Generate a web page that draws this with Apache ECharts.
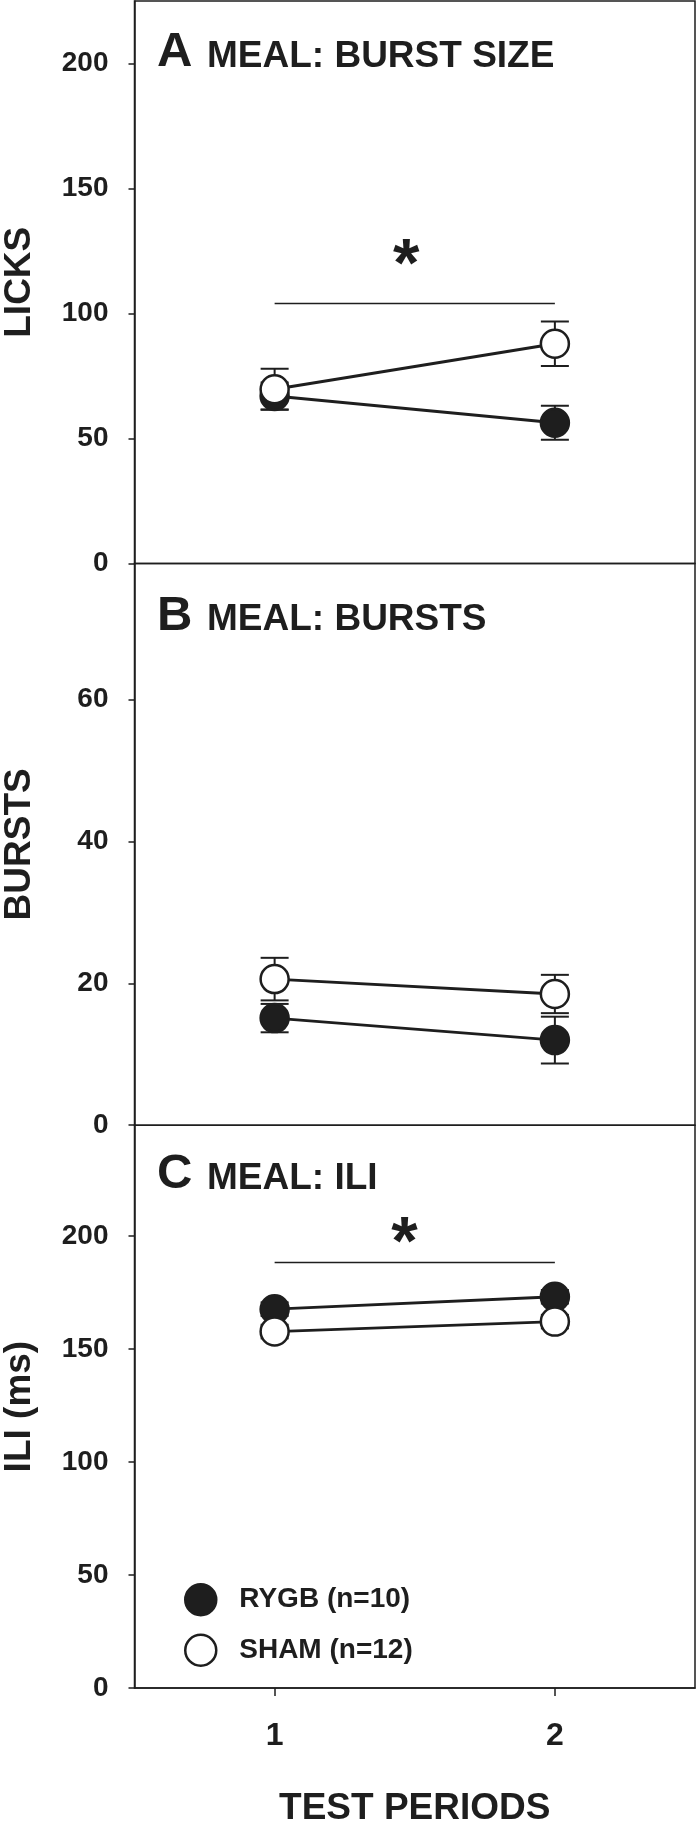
<!DOCTYPE html>
<html>
<head>
<meta charset="utf-8">
<script src="https://cdn.jsdelivr.net/npm/echarts@6/dist/echarts.min.js"></script>
<style>
html,body{margin:0;padding:0;background:#fff;}
#chart{width:697px;height:1823px;}
</style>
</head>
<body>
<div id="chart"></div>
<script>
// ---------- data ----------
const periods = [1, 2];
const groupNames = ['RYGB (n=10)', 'SHAM (n=12)'];

// Panel A: burst size (licks)
const rygbLicks = [67, 56.3];
const rygbLicksSem = [5.4, 6.8];
const shamLicks = [69.7, 87.9];
const shamLicksSem = [8.2, 8.9];

// Panel B: bursts
const rygbBursts = [15.1, 12.0];
const rygbBurstsSem = [2.0, 3.3];
const shamBursts = [20.6, 18.5];
const shamBurstsSem = [3.0, 2.7];

// Panel C: ILI (ms)
const rygbIli = [167.6, 173.1];
const rygbIliSem = [3, 3];
const shamIli = [157.7, 162.1];
const shamIliSem = [3, 3];

// y-axis ticks
const ticksA = [0, 50, 100, 150, 200];
const ticksB = [0, 20, 40, 60];
const ticksC = [0, 50, 100, 150, 200];
const xTicks = [1, 2];

// significance markers: [x1, x2, y] and star [x, y]
const sigLineA = [1, 2, 104];
const starA = [1.47, 123.6];
const sigLineC = [1, 2, 188.2];
const starC = [1.463, 201.8];

// ---------- styling ----------
const INK = '#1e1e1e';
const FONT = '"Liberation Sans", Arial, Helvetica, sans-serif';
const SYM = 28;

const chart = echarts.init(document.getElementById('chart'), null, {renderer: 'canvas'});

const grids = [
  {left: 134.5, right: 2, top: 1, height: 562.5},
  {left: 134.5, right: 2, top: 563.5, height: 561.7},
  {left: 134.5, right: 2, top: 1125.2, height: 562.8}
].map(g => Object.assign(g, {show: true, borderColor: INK, borderWidth: 1.5, backgroundColor: 'transparent',
  containLabel: false, outerBoundsMode: 'none'}));

function yAxis(i, max, interval, ticks, name) {
  return {
    gridIndex: i, type: 'value', min: 0, max: max, interval: interval,
    axisLine: {show: true, lineStyle: {color: INK, width: 1.5}},
    axisTick: {show: true, inside: false, length: 6, lineStyle: {color: INK, width: 1.5}, customValues: ticks},
    axisLabel: {show: true, customValues: ticks, fontSize: 28, fontWeight: 'bold', fontFamily: FONT, color: INK, margin: 26,
      formatter: v => (ticks.indexOf(v) >= 0 ? String(v) : '')},
    splitLine: {show: false},
    name: name, nameLocation: 'middle', nameGap: 96,
    nameTextStyle: {fontSize: 37, fontWeight: 'bold', fontFamily: FONT, color: INK}
  };
}

function xAxis(i, showAll) {
  const ax = {
    gridIndex: i, type: 'value', min: 0.5, max: 2.5, interval: 0.5,
    axisLine: {show: false}, axisTick: {show: false}, axisLabel: {show: false}, splitLine: {show: false}
  };
  if (showAll) {
    ax.axisLine = {show: true, onZero: false, lineStyle: {color: INK, width: 1.5}};
    ax.axisTick = {show: true, inside: false, length: 8, lineStyle: {color: INK, width: 1.5}, customValues: xTicks};
    ax.axisLabel = {show: true, customValues: xTicks, fontSize: 32, fontWeight: 'bold', fontFamily: FONT, color: INK, margin: 32,
      formatter: v => (xTicks.indexOf(v) >= 0 ? String(v) : '')};
    ax.name = 'TEST PERIODS';
    ax.nameLocation = 'middle';
    ax.nameGap = 102;
    ax.nameTextStyle = {fontSize: 37, fontWeight: 'bold', fontFamily: FONT, color: INK};
  }
  return ax;
}

function errSeries(i, vals, sems, z) {
  return {
    type: 'custom', xAxisIndex: i, yAxisIndex: i, z: z, silent: true,
    data: periods.map((x, k) => [x, vals[k] - sems[k], vals[k] + sems[k]]),
    renderItem: function (params, api) {
      const x = api.value(0);
      const lo = api.coord([x, api.value(1)]);
      const hi = api.coord([x, api.value(2)]);
      const hw = 14;
      const st = {stroke: INK, lineWidth: 2};
      return {type: 'group', children: [
        {type: 'line', shape: {x1: lo[0], y1: lo[1], x2: hi[0], y2: hi[1]}, style: st},
        {type: 'line', shape: {x1: lo[0] - hw, y1: lo[1], x2: lo[0] + hw, y2: lo[1]}, style: st},
        {type: 'line', shape: {x1: hi[0] - hw, y1: hi[1], x2: hi[0] + hw, y2: hi[1]}, style: st}
      ]};
    }
  };
}

function lineSeries(i, name, vals, filled, z) {
  return {
    type: 'line', name: name, xAxisIndex: i, yAxisIndex: i, z: z,
    data: periods.map((x, k) => [x, vals[k]]),
    symbol: 'circle', symbolSize: SYM, showSymbol: true,
    itemStyle: {color: filled ? INK : '#ffffff', borderColor: INK, borderWidth: 2.5},
    lineStyle: {color: INK, width: 2.8},
    emphasis: {disabled: true}, silent: true
  };
}

function sigSeries(i, sig) {
  return {
    type: 'line', xAxisIndex: i, yAxisIndex: i, z: 1, silent: true,
    data: [[sig[0], sig[2]], [sig[1], sig[2]]],
    symbol: 'none', lineStyle: {color: INK, width: 1.5}, emphasis: {disabled: true}
  };
}

function starSeries(i, star) {
  return {
    type: 'custom', xAxisIndex: i, yAxisIndex: i, z: 1, silent: true,
    data: [star],
    renderItem: function (params, api) {
      const p = api.coord([api.value(0), api.value(1)]);
      const fs = 68;
      return {type: 'text', x: p[0], y: p[1] + 0.19 * fs,
        style: {text: '*', font: 'bold ' + fs + 'px ' + FONT, fill: INK, align: 'center', verticalAlign: 'middle'}};
    }
  };
}

const series = [
  sigSeries(0, sigLineA), starSeries(0, starA),
  errSeries(0, rygbLicks, rygbLicksSem, 2), errSeries(0, shamLicks, shamLicksSem, 2),
  lineSeries(0, groupNames[0], rygbLicks, true, 3), lineSeries(0, groupNames[1], shamLicks, false, 4),

  errSeries(1, rygbBursts, rygbBurstsSem, 2), errSeries(1, shamBursts, shamBurstsSem, 2),
  lineSeries(1, groupNames[0], rygbBursts, true, 3), lineSeries(1, groupNames[1], shamBursts, false, 4),

  sigSeries(2, sigLineC), starSeries(2, starC),
  errSeries(2, rygbIli, rygbIliSem, 2), errSeries(2, shamIli, shamIliSem, 2),
  lineSeries(2, groupNames[0], rygbIli, true, 3), lineSeries(2, groupNames[1], shamIli, false, 4)
];

function titleText(letter, label, baseline) {
  return [
    {type: 'text', x: 157, y: baseline - 17.5, style: {text: letter, font: 'bold 49px ' + FONT, fill: INK, verticalAlign: 'middle', align: 'left'}},
    {type: 'text', x: 207, y: baseline - 13.3, style: {text: label, font: 'bold 37px ' + FONT, fill: INK, verticalAlign: 'middle', align: 'left'}}
  ];
}

const option = {
  animation: false,
  backgroundColor: '#ffffff',
  textStyle: {fontFamily: FONT},
  grid: grids,
  xAxis: [xAxis(0, false), xAxis(1, false), xAxis(2, true)],
  yAxis: [
    yAxis(0, 225, 50, ticksA, 'LICKS'),
    yAxis(1, 79.2, 20, ticksB, 'BURSTS'),
    yAxis(2, 249, 50, ticksC, 'ILI (ms)')
  ],
  legend: {
    orient: 'vertical', left: 184, top: 1583, padding: 0,
    itemWidth: 31, itemHeight: 31, itemGap: 17, selectedMode: false,
    icon: 'circle',
    data: [
      {name: groupNames[0], itemStyle: {color: INK, borderColor: INK, borderWidth: 2.5}},
      {name: groupNames[1], itemStyle: {color: '#ffffff', borderColor: INK, borderWidth: 2.5}}
    ],
    textStyle: {fontSize: 28, fontWeight: 'bold', fontFamily: FONT, color: INK, padding: [0, 0, 0, 18]}
  },
  graphic: [].concat(
    titleText('A', 'MEAL: BURST SIZE', 70),
    titleText('B', 'MEAL: BURSTS', 633.5),
    titleText('C', 'MEAL: ILI', 1192)
  ),
  series: series
};

chart.setOption(option);
</script>
</body>
</html>
